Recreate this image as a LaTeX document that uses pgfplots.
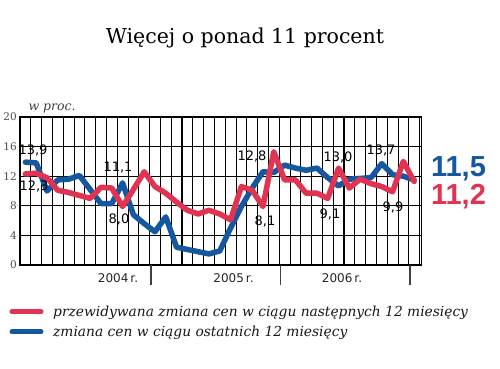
\documentclass[border=0pt]{standalone}
\usepackage{pgfplots}
\pgfplotsset{compat=1.18}
\usepackage{fontspec}
\setmainfont{DejaVu Serif}
\newfontfamily\sans{Liberation Sans}
\newfontfamily\dsans{DejaVu Sans}
\definecolor{myred}{RGB}{224,52,82}
\definecolor{myblue}{RGB}{22,88,160}
\begin{document}
\begin{tikzpicture}[x=1pt,y=1pt]
\path[use as bounding box, fill=white] (0,0) rectangle (500,368);
\begin{axis}[
  at={(20pt,103pt)}, anchor=south west,
  scale only axis, width=401.7pt, height=148pt,
  xmin=0, xmax=37.2, ymin=0, ymax=20,
  xtick={0,3,...,36}, minor xtick={0,...,37}, xticklabels={},
  ytick={0,4,...,20},
  grid=both,
  major grid style={black, line width=1.2pt},
  minor grid style={black, line width=0.8pt},
  major tick length=0pt, minor tick length=0pt,
  axis line style={black, line width=1.3pt},
  /pgf/number format/assume math mode=true,
  yticklabel style={font=\fontsize{10.5}{10.5}\selectfont, text=black!70, inner sep=0pt, xshift=-3pt},
  clip=false,
]
\addplot[myblue, line width=5.5pt, line join=round, line cap=round] coordinates {
(0.5,13.9) (1.5,13.8) (2.5,10.0) (3.5,11.5) (4.5,11.6) (5.5,12.1) (6.5,10.2) (7.5,8.3)
(8.5,8.3) (9.5,11.1) (10.5,6.8) (11.5,5.6) (12.5,4.5) (13.5,6.5) (14.5,2.4) (15.5,2.1)
(16.5,1.8) (17.5,1.5) (18.5,1.9) (19.5,5.0) (20.5,7.9) (21.5,10.4) (22.5,12.6) (23.5,12.5)
(24.5,13.5) (25.5,13.1) (26.5,12.8) (27.5,13.1) (28.5,11.8) (29.5,10.7) (30.5,11.6) (31.5,11.7)
(32.5,11.8) (33.5,13.7) (34.5,12.2) (35.5,12.0) (36.5,11.5)
};
\addplot[myred, line width=5.5pt, line join=round, line cap=round] coordinates {
(0.5,12.3) (1.5,12.4) (2.5,11.8) (3.5,10.1) (4.5,9.8) (5.5,9.4) (6.5,9.0) (7.5,10.5)
(8.5,10.4) (9.5,7.9) (10.5,10.2) (11.5,12.6) (12.5,10.6) (13.5,9.7) (14.5,8.5) (15.5,7.4)
(16.5,6.9) (17.5,7.4) (18.5,6.9) (19.5,6.1) (20.5,10.6) (21.5,10.1) (22.5,7.9) (23.5,15.3)
(24.5,11.5) (25.5,11.5) (26.5,9.7) (27.5,9.7) (28.5,9.0) (29.5,13.1) (30.5,10.4) (31.5,11.6)
(32.5,11.0) (33.5,10.6) (34.5,9.9) (35.5,14.0) (36.5,11.3)
};
\end{axis}
% year separators
\foreach \xx in {151,280.7,410} \draw[black!75, line width=1.2pt] (\xx,103) -- (\xx,83);
\foreach \xx/\yy in {118/2004,233.5/2005,342/2006}
  \node[font=\dsans\fontsize{12}{12}\selectfont, text=black!85] at (\xx,90) {\yy\,r.};
% title
\node[anchor=base, font=\fontsize{20.5}{20.5}\selectfont, text=black] at (245,325) {Więcej o ponad 11 procent};
\node[anchor=base west, font=\itshape\fontsize{12.5}{12.5}\selectfont, text=black!75] at (25,258) {w proc.};
% data labels
\begin{scope}[every node/.style={font=\dsans\fontsize{13}{13}\selectfont, text=black, inner sep=0pt}]
\node at (33,218) {13,9};
\node at (34,182) {12,3};
\node at (118,200) {11,1};
\node at (119,149) {8,0};
\node at (252,212) {12,8};
\node at (265,147) {8,1};
\node at (338,211) {13,0};
\node at (330,154) {9,1};
\node at (381,218) {13,7};
\node at (393,161) {9,9};
\end{scope}
\node[font=\sans\bfseries\fontsize{29}{29}\selectfont, text=myblue] at (458.5,199) {11,5};
\node[font=\sans\bfseries\fontsize{29}{29}\selectfont, text=myred] at (458.5,171) {11,2};
% legend
\draw[myred, line width=5pt, line cap=round] (12,56.3) -- (41,56.3);
\draw[myblue, line width=5pt, line cap=round] (12,36.3) -- (41,36.3);
\node[anchor=base west, inner sep=0pt, font=\itshape\fontsize{13.8}{13.8}\selectfont, text=black!90] at (53,52) {przewidywana zmiana cen w ciągu następnych 12 miesięcy};
\node[anchor=base west, inner sep=0pt, font=\itshape\fontsize{13.8}{13.8}\selectfont, text=black!90] at (53,32) {zmiana cen w ciągu ostatnich 12 miesięcy};
\end{tikzpicture}
\end{document}
